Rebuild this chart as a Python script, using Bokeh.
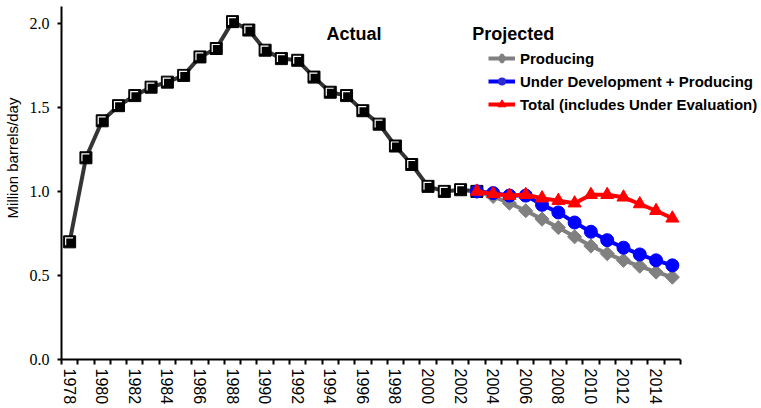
from bokeh.plotting import figure
from bokeh.models import (FixedTicker, Range1d, Legend, LegendItem, Label,
                          ColumnDataSource, NumeralTickFormatter)
from bokeh.embed import file_html
from bokeh.resources import INLINE
import math

# ---------------- data ----------------
actual_years = list(range(1978, 2004))
actual_values = [0.70, 1.20, 1.42, 1.51, 1.57, 1.62, 1.65, 1.69, 1.80, 1.85,
                 2.01, 1.96, 1.84, 1.79, 1.78, 1.68, 1.59, 1.57, 1.48, 1.40,
                 1.27, 1.16, 1.03, 1.00, 1.01, 1.00]

proj_years = list(range(2003, 2016))
producing = [1.00, 0.97, 0.93, 0.885, 0.835, 0.785, 0.73, 0.675, 0.63, 0.59,
             0.555, 0.52, 0.49]
under_dev_producing = [1.00, 0.99, 0.975, 0.975, 0.92, 0.875, 0.815, 0.76,
                       0.71, 0.665, 0.625, 0.59, 0.56]
total_incl_eval = [1.00, 0.985, 0.975, 0.98, 0.96, 0.945, 0.93, 0.98, 0.98,
                   0.965, 0.925, 0.885, 0.84]

series_names = ["Producing", "Under Development + Producing",
                "Total (includes Under Evaluation)"]
tick_years = list(range(1978, 2015, 2))
tick_labels = [str(y) for y in tick_years]
y_ticks = [0.0, 0.5, 1.0, 1.5, 2.0]
y_label = "Million barrels/day"
section_titles = ["Actual", "Projected"]

# ---------------- figure ----------------
x_lo, x_hi = actual_years[0] - 0.5, proj_years[-1] + 0.5
y_lo, y_hi = 0.0, 2.1
axis_w, frame_w, frame_h = 619, 700, 353
x_view_hi = x_lo + (x_hi - x_lo) * frame_w / axis_w   # room for the legend

p = figure(width=761, height=408, output_backend="svg", toolbar_location=None,
           x_range=Range1d(x_lo, x_view_hi), y_range=Range1d(y_lo, y_hi),
           min_border_left=61, min_border_right=0, min_border_top=6,
           min_border_bottom=49)
p.outline_line_color = None
p.xgrid.visible = False
p.ygrid.visible = False
p.background_fill_color = "white"
p.border_fill_color = "white"

# ---------------- axes ----------------
boundaries = [x_lo + k for k in range(int(x_hi - x_lo) + 1)]
xa = p.xaxis[0]
xa.bounds = (x_lo, x_hi)
xa.ticker = FixedTicker(ticks=tick_years, minor_ticks=boundaries)
xa.major_label_overrides = {y: l for y, l in zip(tick_years, tick_labels)}
xa.major_label_orientation = "vertical"
xa.major_tick_out = 0
xa.major_tick_in = 0
xa.minor_tick_out = 5
xa.minor_tick_in = 0
xa.minor_tick_line_color = "black"
xa.minor_tick_line_width = 2
xa.axis_line_width = 2
xa.axis_line_color = "black"
xa.major_label_text_font = "Liberation Sans"
xa.major_label_text_font_size = "16px"
xa.major_label_text_color = "black"
xa.major_label_standoff = 4

ya = p.yaxis[0]
ya.ticker = FixedTicker(ticks=y_ticks, minor_ticks=[])
ya.formatter = NumeralTickFormatter(format="0.0")
ya.major_tick_out = 4
ya.major_tick_in = 0
ya.major_tick_line_width = 2
ya.major_tick_line_color = "black"
ya.axis_line_width = 2
ya.axis_line_color = "black"
ya.major_label_text_font = "Liberation Serif"
ya.major_label_text_font_size = "16px"
ya.major_label_text_color = "black"
ya.major_label_standoff = 8
# leading no-break spaces lift the title above the axis centre, as in the original
ya.axis_label = "\u00a0" * 12 + y_label
ya.axis_label_text_font = "Liberation Sans"
ya.axis_label_text_font_style = "normal"
ya.axis_label_text_font_size = "15px"
ya.axis_label_text_color = "black"
ya.axis_label_standoff = 6

# ---------------- actual series ----------------
px_x = axis_w / (x_hi - x_lo)
px_y = frame_h / (y_hi - y_lo)
src_a = ColumnDataSource(dict(
    x=actual_years, y=actual_values,
    xh=[v - 0.6 / px_x for v in actual_years],
    yh=[v + 0.6 / px_y for v in actual_values],
    xb=[v + 0.6 / px_x for v in actual_years],
    yb=[v - 0.6 / px_y for v in actual_values],
))
p.line("x", "y", source=src_a, line_color="#353535", line_width=4)
p.scatter("x", "y", source=src_a, marker="square", size=12,
          fill_color="black", line_color="black", line_width=1)
p.scatter("xh", "yh", source=src_a, marker="square", size=8,
          fill_color="white", line_color=None)
p.scatter("xb", "yb", source=src_a, marker="square", size=8,
          fill_color="black", line_color=None)

# ---------------- projected series ----------------
src_p = ColumnDataSource(dict(x=proj_years, prod=producing,
                              udp=under_dev_producing, tot=total_incl_eval))
g_line = p.line("x", "prod", source=src_p, line_color="#808080", line_width=4)
g_pts = p.scatter("x", "prod", source=src_p, marker="square", size=10,
                  angle=math.pi / 4, fill_color="#808080", line_color="#808080")
b_line = p.line("x", "udp", source=src_p, line_color="#0000ff", line_width=4)
b_pts = p.scatter("x", "udp", source=src_p, marker="circle", size=13,
                  fill_color="#0000ff", line_color="#0000ff")
r_line = p.line("x", "tot", source=src_p, line_color="#ff0000", line_width=4)
r_pts = p.scatter("x", "tot", source=src_p, marker="triangle", size=13,
                  fill_color="#ff0000", line_color="#ff0000")

# legend-only swatch markers (legend swatches ignore marker angle);
# their single point is NaN so nothing is drawn in the plot itself
nan_src = ColumnDataSource(dict(x=[float("nan")], y=[float("nan")]))
g_leg = p.scatter("x", "y", source=nan_src, marker="diamond", size=14,
                  fill_color="#808080", line_color="#808080", line_width=3)
b_leg = p.scatter("x", "y", source=nan_src, marker="circle", size=8,
                  fill_color="#2b2bd0", line_color="#2b2bd0", line_width=0)

legend = Legend(items=[
    LegendItem(label=series_names[0], renderers=[g_line, g_leg]),
    LegendItem(label=series_names[1], renderers=[b_line, b_leg]),
    LegendItem(label=series_names[2], renderers=[r_line, r_pts]),
], location=(427, 245))
legend.border_line_color = None
legend.background_fill_alpha = 0
legend.padding = 0
legend.margin = 0
legend.spacing = 3
legend.glyph_width = 27
legend.glyph_height = 20
legend.label_standoff = 5
legend.label_text_font = "Liberation Sans"
legend.label_text_font_style = "bold"
legend.label_text_font_size = "15px"
legend.label_text_color = "black"
legend.label_height = 20
p.add_layout(legend, "center")

# ---------------- section titles ----------------
for txt, xv in zip(section_titles, [1993.77, 2002.71]):
    p.add_layout(Label(x=xv, y=1.939, text=txt, text_font="Liberation Sans",
                       text_font_style="bold", text_font_size="18px",
                       text_color="black", text_baseline="alphabetic"))

open("out.html", "w").write(file_html(p, INLINE))
